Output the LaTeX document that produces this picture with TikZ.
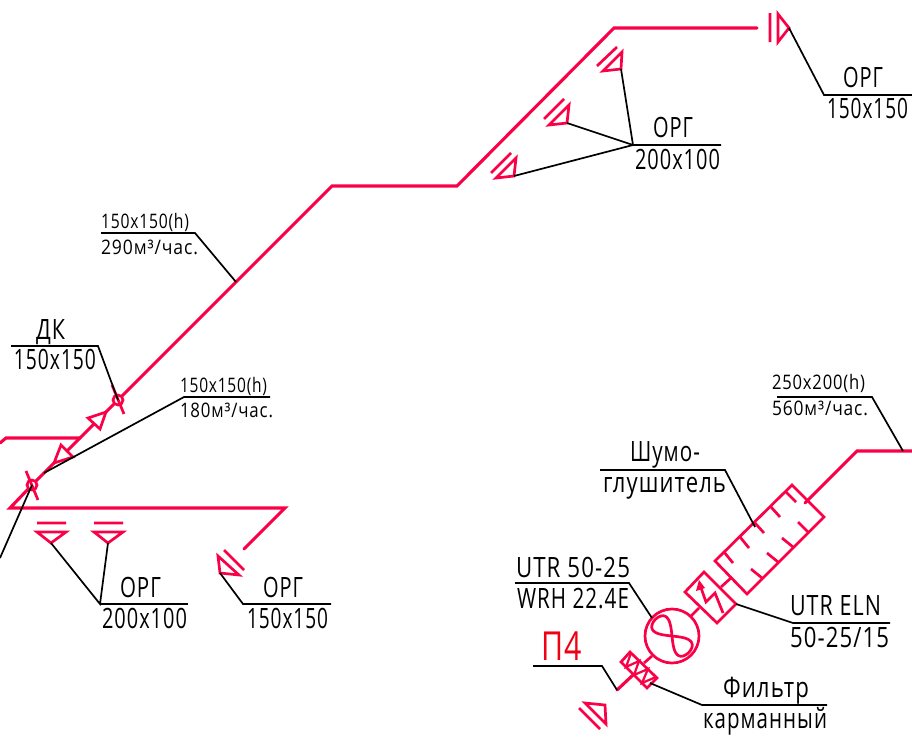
\documentclass[tikz,border=0pt]{standalone}
\usepackage{graphicx}
\usepackage{fontspec}
\setmainfont{Open Sans}[LetterSpace=5]
\definecolor{pipe}{RGB}{250,0,70}
\definecolor{mark}{RGB}{240,0,20}
\newcommand{\lbl}[6]{\node[lbltext,font=\fontsize{#5}{#5}\selectfont] (#1) at (#2,#3) {\resizebox{#4pt}{\height}{#6}};}
\tikzset{
  pipeline/.style={draw=pipe,line width=3.1pt,line cap=round,line join=miter},
  thin pipe/.style={draw=pipe,line width=2.7pt,line join=miter},
  leader/.style={draw=black,line width=1.7pt,line join=miter},
  lbltext/.style={anchor=base west,inner sep=0pt,outer sep=0pt,text=black},
}
\begin{document}
\begin{tikzpicture}[x=1pt,y=-1pt]
\useasboundingbox (0,0) rectangle (912,736);
\fill[white] (0,0) rectangle (912,736);
\clip (0,0) rectangle (912,736);

% named points
\coordinate (dk) at (118,400);
\coordinate (dk2) at (32,485);
\coordinate (hub1) at (100,604);
\coordinate (hub2) at (633,145);

% main pipeline
\draw[pipeline] (757,28) -- (614,28) -- (457,186) -- (332,186) -- (dk) -- (106,412);
\draw[pipeline] (94,424) -- (67,451);
\draw[pipeline] (54,463) -- (dk2) -- (10,508) -- (285,508) -- (244,549);
\draw[pipeline] (0,443) -- (6,438) -- (80,438);
% dampers
\draw[thin pipe,fill=white] (dk) circle (5);
\draw[thin pipe] (112,385) -- (124,414);
\draw[thin pipe,fill=white] (dk2) circle (5);
\draw[thin pipe] (26,471) -- (38,500);
% flow arrows
\draw[thin pipe] (88,418) -- (106,412) -- (100,429) -- cycle;
\draw[thin pipe] (61,445) -- (73,457) -- (54,463) -- cycle;

% grilles, lower left
\draw[thin pipe] (37,523) -- (66,523) (37,532) -- (66,532) -- (51,543) -- cycle;
\draw[thin pipe] (94,523) -- (123,523) (94,532) -- (123,532) -- (108,543) -- cycle;
\draw[thin pipe] (224,550) -- (244,570) (218,556) -- (239,575) -- (220,573) -- cycle;
% grilles, top
\draw[thin pipe] (770,13) -- (770,42) (778,14) -- (789,28) -- (778,42) -- cycle;
\draw[thin pipe] (597,66) -- (617,47) (622,52) -- (621,69) -- (603,71) -- cycle;
\draw[thin pipe] (544,119) -- (564,99) (569,105) -- (567,123) -- (549,125) -- cycle;
\draw[thin pipe] (491,173) -- (511,153) (516,158) -- (514,176) -- (496,178) -- cycle;
% grille, bottom
\draw[thin pipe] (579,708) -- (600,729) (585,703) -- (605,705) -- (606,724) -- cycle;

% supply line right
\draw[pipeline] (912,451) -- (857,451) -- (805,503);
% silencer
\draw[thin pipe] (792,485) -- (824,517) -- (747,594) -- (715,561) -- cycle;
\draw[thin pipe]
  (724,552) -- (733,563) (740,537) -- (749,548) (755,523) -- (764,533)
  (771,507) -- (780,517) (786,492) -- (796,502)
  (751,569) -- (762,578) (767,553) -- (778,562) (782,538) -- (793,547) (798,522) -- (808,532);
\draw[thin pipe] (721,587) -- (732,577);
% heater
\draw[thin pipe] (704,572) -- (736,604) -- (717,623) -- (685,592) -- cycle;
\draw[thin pipe] (700,585) -- (706,602) -- (715,593) -- (723,613);
\fill[pipe] (699,580) -- (696,591) -- (705,588) -- cycle;
\draw[thin pipe] (691,616) -- (699,608);
% fan
\draw[thin pipe] (672,636) circle (27);
\draw[thin pipe] plot[domain=0:360,samples=73,smooth]
  ({672+(23.5*cos(\x)-9.5*sin(2*\x))*0.707},{636+(23.5*cos(\x)+9.5*sin(2*\x))*0.707});
\draw[thin pipe] (652,656) -- (644,663);
% filter
\draw[thin pipe] (630,652) -- (657,678) -- (647,688) -- (621,662) -- cycle;
\draw[thin pipe,line width=2.2pt] (631,653) -- (626,667) -- (639,661) -- (634,675) -- (648,669) -- (642,683) -- (656,677);
\draw[pipeline] (633,675) -- (617,690);

% leaders
\draw[leader] (11,346) -- (98,346) -- (dk);
\draw[leader] (270,397) -- (184,397) -- (44,473);
\draw[leader] (dk2) -- (0,558);
\draw[leader] (101,233) -- (195,233) -- (236,282);
\draw[leader] (51,543) -- (hub1) -- (108,543);
\draw[leader] (hub1) -- (188,604);
\draw[leader] (220,573) -- (243,604) -- (331,604);
\draw[leader] (789,28) -- (824,95) -- (912,95);
\draw[leader] (621,69) -- (hub2) -- (567,123);
\draw[leader] (514,176) -- (hub2) -- (721,145);
\draw[leader] (777,397) -- (872,397) -- (903,451);
\draw[leader] (600,470) -- (725,470) -- (755,527);
\draw[leader] (515,583) -- (629,583) -- (652,618);
\draw[leader] (736,604) -- (793,623) -- (890,623);
\draw[leader] (533,666) -- (602,666) -- (617,690);
\draw[leader] (650,683) -- (702,705) -- (827,705);

% labels
\lbl{a1}{36}{339}{29}{28}{ДК}
\lbl{a2}{14}{369}{82}{28}{150x150}
\lbl{b1}{180}{392}{87}{20}{150x150(h)}
\lbl{b2}{180}{417}{93}{20}{180м³/час.}
\lbl{c1}{101}{228}{88}{20}{150x150(h)}
\lbl{c2}{101}{254}{97}{20}{290м³/час.}
\lbl{d1}{120}{597}{41}{28}{ОРГ}
\lbl{d2}{102}{628}{85}{28}{200x100}
\lbl{e1}{263}{597}{40}{28}{ОРГ}
\lbl{e2}{247}{628}{81}{28}{150x150}
\lbl{f1}{653}{137}{40}{28}{ОРГ}
\lbl{f2}{635}{169}{85}{28}{200x100}
\lbl{g1}{843}{87}{40}{28}{ОРГ}
\lbl{g2}{827}{118}{81}{28}{150x150}
\lbl{h1}{772}{389}{93}{20}{250x200(h)}
\lbl{h2}{772}{415}{96}{20}{560м³/час.}
\lbl{i1}{630}{461}{70}{28}{Шумо-}
\lbl{i2}{603}{492}{123}{28}{глушитель}
\lbl{j1}{516}{577}{114}{28}{UTR 50-25}
\lbl{j2}{517}{608}{112}{28}{WRH 22.4E}
\lbl{k1}{790}{615}{91}{28}{UTR ELN}
\lbl{k2}{790}{647}{99}{28}{50-25/15}
\node[lbltext,text=mark,font=\fontsize{40}{40}\selectfont] (p4) at (541,660) {\resizebox{41pt}{\height}{П4}};
\lbl{l1}{723}{697}{86}{28}{Фильтр}
\lbl{l2}{703}{728}{124}{28}{карманный}
\end{tikzpicture}
\end{document}
